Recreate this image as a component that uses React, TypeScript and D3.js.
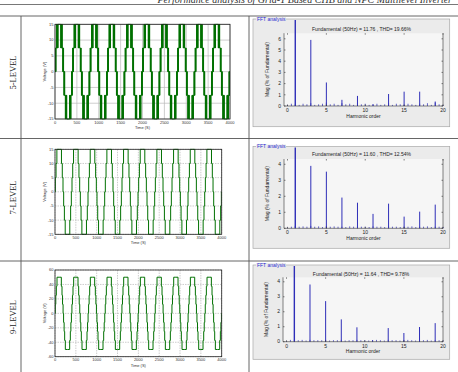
import * as d3 from 'd3'

// time axis of the waveform plots (samples), one period = 400
const timeTicks = [0, 500, 1000, 1500, 2000, 2500, 3000, 3500, 4000]
const cycleCount = 10
const periodLength = 400

// first quarter of one period: [time, voltage] switching points
const fiveLevelQuarter: [number, number][] = [
  [0, 0], [4, 0], [4, 7.5], [8, 7.5], [8, 0], [14, 0], [14, 7.5], [18, 7.5], [18, 0], [22, 0], [22, 7.5],
  [36, 7.5], [36, 15], [40, 15], [40, 7.5], [46, 7.5], [46, 15], [50, 15], [50, 7.5],
  [60, 7.5], [60, 15], [64, 15], [64, 7.5], [68, 7.5], [68, 15], [100, 15],
]
const sevenLevelQuarter: [number, number][] = [
  [0, 0], [8, 0], [8, 5], [25, 5], [25, 10], [45, 10], [45, 15], [100, 15],
]
const nineLevelQuarter: [number, number][] = [
  [0, 0], [6, 0], [6, 12.5], [19, 12.5], [19, 25], [32, 25], [32, 37.5], [48, 37.5], [48, 50], [100, 50],
]

const fiveLevelTicks = [-15, -10, -5, 0, 5, 10, 15]
const sevenLevelTicks = [-15, -10, -5, 0, 5, 10, 15]
const nineLevelTicks = [-60, -40, -20, 0, 20, 40, 60]

// FFT
const harmonicTicks = [0, 5, 10, 15, 20]
const harmonicOrders = [1, 3, 5, 7, 9, 11, 13, 15, 17, 19]
const fiveLevelMag = [100, 5.9, 2.1, 0.55, 0.9, 0.15, 1.07, 1.28, 1.28, 0.4]
const sevenLevelMag = [100, 3.9, 3.54, 1.92, 1.6, 0.9, 1.54, 0.73, 1.04, 1.48]
const nineLevelMag = [100, 3.82, 2.71, 1.49, 0.96, 0.1, 0.91, 0.58, 0.98, 1.24]
// small spectral content at every half order, 0 .. 20
const fiveLevelGrass = [0.1, 0.2, 0.15, 0.1, 0.2, 0.15, 0.25, 0.1, 0.15, 0.2, 0.3, 0.15, 0.2, 0.1, 0.25, 0.15, 0.2, 0.1, 0.25, 0.15, 0.2,
  0.1, 0.15, 0.2, 0.1, 0.15, 0.25, 0.1, 0.2, 0.15, 0.1, 0.2, 0.15, 0.1, 0.2, 0.15, 0.25, 0.1, 0.3, 0.15, 0.1]
const sevenLevelGrass = [0.05, 0.1, 0.15, 0.1, 0.12, 0.1, 0.15, 0.1, 0.12, 0.08, 0.15, 0.1, 0.12, 0.1, 0.1, 0.08, 0.12, 0.1, 0.15, 0.1, 0.1,
  0.08, 0.12, 0.1, 0.1, 0.08, 0.12, 0.1, 0.1, 0.08, 0.1, 0.1, 0.12, 0.08, 0.1, 0.1, 0.12, 0.08, 0.1, 0.1, 0.08]
const nineLevelGrass = [0.05, 0.12, 0.1, 0.1, 0.12, 0.08, 0.12, 0.1, 0.1, 0.1, 0.12, 0.08, 0.1, 0.1, 0.12, 0.08, 0.1, 0.1, 0.12, 0.1, 0.1,
  0.08, 0.1, 0.12, 0.1, 0.08, 0.12, 0.1, 0.1, 0.08, 0.1, 0.12, 0.1, 0.08, 0.1, 0.1, 0.12, 0.08, 0.1, 0.1, 0.08]

const fiveLevelTitle = 'Fundamental (50Hz) = 11.76 , THD= 19.66%'
const sevenLevelTitle = 'Fundamental (50Hz) = 11.60 , THD= 12.54%'
const nineLevelTitle = 'Fundamental (50Hz) = 11.64 , THD= 9.78%'

const sans = '"Liberation Sans", Arial, sans-serif'
const serif = '"Liberation Serif", "Times New Roman", serif'

function buildWave(quarter: [number, number][]) {
  const second = quarter.slice().reverse().map(([t, v]) => [periodLength / 2 - t, v] as [number, number])
  const half = [...quarter, ...second]
  const period = [...half, ...half.map(([t, v]) => [t + periodLength / 2, -v] as [number, number])]
  const pts: [number, number][] = []
  for (let c = 0; c < cycleCount; c++) period.forEach(([t, v]) => pts.push([t + c * periodLength, v]))
  return pts
}

type WaveProps = {
  id: string
  x0: number; x1: number; y0: number; y1: number
  yDomain: [number, number]
  yTicks: number[]
  quarter: [number, number][]
  dotted?: boolean
}

function Waveform({ id, x0, x1, y0, y1, yDomain, yTicks, quarter, dotted }: WaveProps) {
  const x = d3.scaleLinear().domain([0, 4000]).range([x0, x1])
  const y = d3.scaleLinear().domain(yDomain).range([y1, y0])
  const line = d3.line<[number, number]>().x(d => x(d[0])).y(d => y(d[1]))
  const pts = buildWave(quarter)
  return (
    <g>
      <clipPath id={id}><rect x={x0} y={y0 - 1} width={x1 - x0} height={y1 - y0 + 2} /></clipPath>
      <rect x={x0} y={y0} width={x1 - x0} height={y1 - y0} fill="#fff" />
      {timeTicks.map(t => (
        <line key={'gx' + t} x1={x(t)} x2={x(t)} y1={y0} y2={y1} stroke="#b8b8b8" strokeWidth={0.7}
          strokeDasharray={dotted ? '1.5,1' : undefined} />
      ))}
      {yTicks.map(v => (
        <line key={'gy' + v} x1={x0} x2={x1} y1={y(v)} y2={y(v)} stroke="#b8b8b8" strokeWidth={0.7}
          strokeDasharray={dotted ? '1.5,1' : undefined} />
      ))}
      <path d={line(pts) || ''} fill="none" stroke="#007000" strokeWidth={1} clipPath={`url(#${id})`} />
      <rect x={x0} y={y0} width={x1 - x0} height={y1 - y0} fill="none" stroke="#222" strokeWidth={0.8} />
      {timeTicks.map(t => (
        <text key={'lx' + t} x={x(t)} y={y1 + 4.6} fontSize={4} textAnchor="middle" fill="#333" fontFamily={sans}>{t}</text>
      ))}
      {yTicks.map(v => (
        <text key={'ly' + v} x={x0 - 1.5} y={y(v) + 1.4} fontSize={4} textAnchor="end" fill="#333" fontFamily={sans}>{v}</text>
      ))}
      <text x={(x0 + x1) / 2} y={y1 + 10} fontSize={4} textAnchor="middle" fill="#333" fontFamily={sans}>Time (S)</text>
      <text transform={`translate(${x0 - 9},${(y0 + y1) / 2}) rotate(-90)`} fontSize={4} textAnchor="middle" fill="#333" fontFamily={sans}>Voltage (V)</text>
    </g>
  )
}

type FftProps = {
  panel: { x: number; y: number; w: number; h: number }
  x0: number; x1: number; y0: number; y1: number
  yMax: number
  yTicks: number[]
  mags: number[]
  grass: number[]
  title: string
  titleY: number
}

function FftPanel({ panel, x0, x1, y0, y1, yMax, yTicks, mags, grass, title, titleY }: FftProps) {
  const x = d3.scaleLinear().domain([-0.45, 20]).range([x0, x1])
  const y = d3.scaleLinear().domain([0, yMax]).range([y1, y0])
  const barTop = (v: number) => Math.max(y(v), panel.y + 1)
  return (
    <g>
      <rect x={panel.x} y={panel.y} width={panel.w} height={panel.h} fill="#ebebeb" stroke="#a8a8a8" strokeWidth={0.7} />
      <rect x={x0} y={y0} width={x1 - x0} height={y1 - y0} fill="#f6f6f6" />
      <text x={(x0 + x1) / 2 - 2} y={titleY} fontSize={5} textAnchor="middle" fill="#222" fontFamily={sans}>{title}</text>
      {grass.map((v, i) => (
        <line key={'g' + i} x1={x(i * 0.5)} x2={x(i * 0.5)} y1={y1} y2={y(v)} stroke="#5555c4" strokeWidth={0.9} />
      ))}
      {harmonicOrders.map((h, i) => (
        <line key={'h' + h} x1={x(h)} x2={x(h)} y1={y1} y2={barTop(mags[i])} stroke="#2e2eb8"
          strokeWidth={h === 1 ? 1.4 : 1} />
      ))}
      <line x1={x0} x2={x0} y1={y0} y2={y1} stroke="#333" strokeWidth={0.6} />
      <line x1={x1} x2={x1} y1={y0} y2={y1} stroke="#333" strokeWidth={0.6} />
      <line x1={x0} x2={x1} y1={y1} y2={y1} stroke="#333" strokeWidth={0.6} />
      {harmonicTicks.map(t => (
        <g key={'tx' + t}>
          <line x1={x(t)} x2={x(t)} y1={y1} y2={y1 - 1.5} stroke="#333" strokeWidth={0.6} />
          <line x1={x(t)} x2={x(t)} y1={y0} y2={y0 + 1.5} stroke="#333" strokeWidth={0.6} />
          <text x={x(t)} y={y1 + 6} fontSize={5} textAnchor="middle" fill="#222" fontFamily={sans}>{t}</text>
        </g>
      ))}
      {yTicks.map(v => (
        <g key={'ty' + v}>
          <line x1={x0} x2={x0 + 1.5} y1={y(v)} y2={y(v)} stroke="#333" strokeWidth={0.6} />
          <line x1={x1} x2={x1 - 1.5} y1={y(v)} y2={y(v)} stroke="#333" strokeWidth={0.6} />
          <text x={x0 - 3} y={y(v) + 1.7} fontSize={5} textAnchor="end" fill="#222" fontFamily={sans}>{v}</text>
        </g>
      ))}
      <text x={(x0 + x1) / 2} y={y1 + 11.5} fontSize={5} textAnchor="middle" fill="#222" fontFamily={sans}>Harmonic order</text>
      <text transform={`translate(${x0 - 15},${(y0 + y1) / 2}) rotate(-90)`} fontSize={5} textAnchor="middle" fill="#222" fontFamily={sans}>Mag (% of Fundamental)</text>
      <rect x={panel.x + 3} y={panel.y - 2} width={30} height={4} fill="#ebebeb" />
      <text x={panel.x + 4} y={panel.y + 1.6} fontSize={5} fill="#2a2ad0" fontFamily={sans}>FFT analysis</text>
    </g>
  )
}

export default function App() {
  const W = 458
  const H = 372
  return (
    <svg width={W} height={H} style={{ position: 'absolute', left: 0, top: 0, background: '#fff' }}>
      <text x={452} y={2.6} fontSize={10} textAnchor="end" fontStyle="italic" fill="#333" fontFamily={serif}>
        Performance analysis of Grid-T Based CHB and NPC Multilevel Inverter
      </text>
      <line x1={0} x2={W} y1={4.5} y2={4.5} stroke="#555" strokeWidth={0.8} />
      <line x1={0} x2={W} y1={16} y2={16} stroke="#555" strokeWidth={0.9} />
      <line x1={0} x2={W} y1={138.5} y2={138.5} stroke="#555" strokeWidth={0.9} />
      <line x1={0} x2={W} y1={261} y2={261} stroke="#555" strokeWidth={0.9} />
      <line x1={21} x2={21} y1={16} y2={H} stroke="#555" strokeWidth={0.9} />
      <line x1={249} x2={249} y1={16} y2={H} stroke="#555" strokeWidth={0.9} />

      <text transform="translate(15.5,72.5) rotate(-90)" fontSize={8.5} textAnchor="middle" fill="#222" fontFamily={serif}>5-LEVEL</text>
      <text transform="translate(15.5,197.5) rotate(-90)" fontSize={8.5} textAnchor="middle" fill="#222" fontFamily={serif}>7-LEVEL</text>
      <text transform="translate(15.5,317) rotate(-90)" fontSize={8.5} textAnchor="middle" fill="#222" fontFamily={serif}>9-LEVEL</text>

      <Waveform id="w5" x0={55} x1={230} y0={24.3} y1={119} yDomain={[-15, 15]} yTicks={fiveLevelTicks} quarter={fiveLevelQuarter} />
      <Waveform id="w7" x0={55} x1={221.7} y0={149.3} y1={234.3} yDomain={[-15, 15]} yTicks={sevenLevelTicks} quarter={sevenLevelQuarter} dotted />
      <Waveform id="w9" x0={55} x1={221.7} y0={270} y1={356.7} yDomain={[-60, 60]} yTicks={nineLevelTicks} quarter={nineLevelQuarter} dotted />

      <FftPanel panel={{ x: 253, y: 19, w: 196.7, h: 107.7 }} x0={284} x1={443} y0={33.2} y1={106}
        yMax={6.5} yTicks={[0, 1, 2, 3, 4, 5, 6]} mags={fiveLevelMag} grass={fiveLevelGrass} title={fiveLevelTitle} titleY={30.5} />
      <FftPanel panel={{ x: 253, y: 146.5, w: 196.7, h: 101.8 }} x0={284} x1={443} y0={159} y1={228.3}
        yMax={4.33} yTicks={[0, 1, 2, 3, 4]} mags={sevenLevelMag} grass={sevenLevelGrass} title={sevenLevelTitle} titleY={156} />
      <FftPanel panel={{ x: 253, y: 265, w: 196.7, h: 94.3 }} x0={283} x1={443} y0={277.3} y1={341.7}
        yMax={4.3} yTicks={[0, 1, 2, 3, 4]} mags={nineLevelMag} grass={nineLevelGrass} title={nineLevelTitle} titleY={275.5} />
    </svg>
  )
}
